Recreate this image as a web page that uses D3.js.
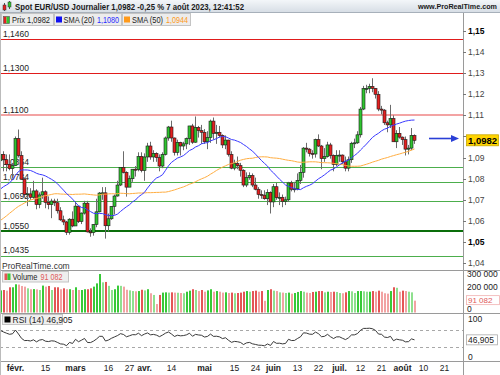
<!DOCTYPE html>
<html><head><meta charset="utf-8">
<script src="https://cdn.jsdelivr.net/npm/d3@7/dist/d3.min.js"></script>
<style>
html,body{margin:0;padding:0;background:#fff;overflow:hidden}
svg{display:block}
text{font-family:"Liberation Sans",Arial,sans-serif}
</style></head>
<body><svg id="chart" width="500" height="375"></svg>
<script>
// ---------- DATA ----------
const firstSession = '2023-01-25';
const lastAxisDate = '2023-08-25';
// closes before the visible window (for SMA/RSI warm-up)
const warmupCloses = [1.0210,1.0355,1.0325,1.0350,1.0395,1.0365,1.0325,1.0245,1.0305,1.0395,1.0410,1.0400,1.0340,1.0330,1.0405,
1.0520,1.0535,1.0495,1.0465,1.0505,1.0555,1.0530,1.0535,1.0630,1.0680,1.0625,1.0585,1.0605,1.0620,1.0605,1.0595,1.0615,1.0635,1.0640,1.0610,1.0665,1.0705,
1.0665,1.0545,1.0605,1.0520,1.0645,1.0730,1.0735,1.0760,1.0855,1.0830,1.0820,1.0790,1.0795,1.0830,1.0855,1.0870,1.0885];
const opens = [1.0885,1.0915,1.0890,1.0868,1.0848,1.0862,1.0990,1.0910,1.0798,1.0726,
1.0728,1.0712,1.0742,1.0678,1.0723,1.0738,1.0688,1.0677,1.0694,1.0686,
1.0648,1.0605,1.0595,1.0546,1.0608,1.0576,1.0670,1.0597,1.0637,1.0684,
1.0548,1.0545,1.0583,1.0643,1.0732,1.0733,1.0577,1.0610,1.0669,1.0718,
1.0770,1.0853,1.0830,1.0760,1.0800,1.0845,1.0843,1.0905,1.0839,1.0903,
1.0955,1.0903,1.0920,1.0900,1.0860,1.0915,1.0993,1.1045,1.0993,1.0925,
1.0972,1.0955,1.0965,1.0990,1.1050,1.0973,1.1043,1.1028,1.1020,1.0975,
1.0995,1.1073,1.1015,1.1020,1.1005,1.0960,1.0983,1.0915,1.0850,1.0872,
1.0862,1.0840,1.0770,1.0805,1.0815,1.0770,1.0750,1.0725,1.0722,1.0705,
1.0735,1.0690,1.0762,1.0710,1.0712,1.0693,1.0700,1.0780,1.0750,1.0752,
1.0792,1.0830,1.0945,1.0940,1.0920,1.0917,1.0985,1.0955,1.0895,1.0905,
1.0960,1.0910,1.0868,1.0910,1.0912,1.0880,1.0850,1.0890,1.0968,1.0970,
1.1008,1.1130,1.1227,1.1228,1.1237,1.1228,1.1200,1.1130,1.1125,1.1065,
1.1055,1.1085,1.0975,1.1015,1.0997,1.0985,1.0940,1.0945,1.1005];
const highs = [1.0930,1.0930,1.0915,1.0915,1.0875,1.1000,1.1033,1.0930,1.0805,1.0760,
1.0755,1.0790,1.0750,1.0735,1.0805,1.0745,1.0716,1.0705,1.0705,1.0705,
1.0665,1.0625,1.0600,1.0613,1.0645,1.0691,1.0670,1.0640,1.0695,1.0695,
1.0565,1.0585,1.0705,1.0737,1.0760,1.0760,1.0635,1.0670,1.0725,1.0790,
1.0855,1.0930,1.0835,1.0815,1.0845,1.0860,1.0925,1.0925,1.0920,1.0970,
1.0975,1.0935,1.0925,1.0915,1.0925,1.1000,1.1050,1.1075,1.0995,1.0985,
1.0975,1.0975,1.0995,1.1050,1.1060,1.1095,1.1050,1.1055,1.1035,1.1025,
1.1080,1.1090,1.1055,1.1050,1.1010,1.1005,1.0985,1.0930,1.0890,1.0905,
1.0875,1.0845,1.0830,1.0830,1.0825,1.0805,1.0760,1.0745,1.0745,1.0750,
1.0740,1.0775,1.0780,1.0735,1.0725,1.0715,1.0785,1.0790,1.0785,1.0825,
1.0865,1.0950,1.0970,1.0945,1.0935,1.0990,1.1010,1.0960,1.0945,1.0975,
1.0970,1.0915,1.0935,1.0935,1.0915,1.0905,1.0905,1.0975,1.0990,1.1025,
1.1140,1.1240,1.1245,1.1250,1.1276,1.1230,1.1215,1.1145,1.1130,1.1075,
1.1150,1.1100,1.1030,1.1045,1.1000,1.1000,1.0960,1.1040,1.1010];
const lows = [1.0835,1.0835,1.0835,1.0840,1.0800,1.0860,1.0900,1.0795,1.0710,1.0670,
1.0700,1.0705,1.0655,1.0660,1.0705,1.0660,1.0655,1.0613,1.0670,1.0635,
1.0600,1.0580,1.0533,1.0535,1.0570,1.0576,1.0590,1.0585,1.0630,1.0545,
1.0525,1.0530,1.0570,1.0640,1.0700,1.0516,1.0550,1.0605,1.0630,1.0715,
1.0765,1.0825,1.0715,1.0760,1.0785,1.0810,1.0835,1.0830,1.0790,1.0880,
1.0890,1.0880,1.0880,1.0835,1.0850,1.0910,1.0980,1.0975,1.0910,1.0910,
1.0910,1.0935,1.0940,1.0960,1.0965,1.0970,1.0995,1.0965,1.0965,1.0940,
1.0970,1.0985,1.0965,1.0995,1.0945,1.0940,1.0905,1.0845,1.0840,1.0845,
1.0810,1.0760,1.0760,1.0795,1.0760,1.0745,1.0705,1.0705,1.0700,1.0675,
1.0635,1.0665,1.0700,1.0675,1.0665,1.0675,1.0690,1.0740,1.0735,1.0745,
1.0775,1.0805,1.0925,1.0905,1.0895,1.0900,1.0950,1.0845,1.0880,1.0900,
1.0895,1.0835,1.0860,1.0880,1.0870,1.0835,1.0835,1.0875,1.0945,1.0965,
1.0995,1.1125,1.1205,1.1205,1.1210,1.1180,1.1120,1.1105,1.1055,1.1020,
1.1040,1.0975,1.0945,1.0990,1.0960,1.0910,1.0915,1.0935,1.0965];
const closes = [1.0915,1.0890,1.0868,1.0848,1.0862,1.0990,1.0910,1.0798,1.0726,1.0728,
1.0712,1.0742,1.0678,1.0723,1.0738,1.0688,1.0677,1.0694,1.0686,1.0648,
1.0605,1.0595,1.0546,1.0608,1.0576,1.0670,1.0597,1.0637,1.0684,1.0548,
1.0545,1.0583,1.0643,1.0732,1.0733,1.0577,1.0610,1.0669,1.0718,1.0770,
1.0853,1.0830,1.0760,1.0800,1.0845,1.0843,1.0905,1.0839,1.0903,1.0955,
1.0903,1.0920,1.0900,1.0860,1.0915,1.0993,1.1045,1.0993,1.0925,1.0972,
1.0955,1.0965,1.0990,1.1050,1.0973,1.1043,1.1028,1.1020,1.0975,1.0995,
1.1073,1.1015,1.1020,1.1005,1.0960,1.0983,1.0915,1.0850,1.0872,1.0862,
1.0840,1.0770,1.0805,1.0815,1.0770,1.0750,1.0725,1.0722,1.0705,1.0735,
1.0690,1.0762,1.0710,1.0712,1.0693,1.0700,1.0780,1.0750,1.0752,1.0792,
1.0830,1.0945,1.0940,1.0920,1.0917,1.0985,1.0955,1.0895,1.0905,1.0960,
1.0910,1.0868,1.0910,1.0912,1.0880,1.0850,1.0890,1.0968,1.0970,1.1008,
1.1130,1.1227,1.1228,1.1237,1.1228,1.1200,1.1130,1.1125,1.1065,1.1055,
1.1085,1.0975,1.1015,1.0997,1.0985,1.0940,1.0945,1.1005,1.0982];
const volumes = [170000,173000,168000,194000,194000,217000,215000,204000,199000,186000,
179000,180000,178000,173000,207000,199000,204000,173000,194000,194000,
179000,186000,179000,179000,173000,194000,173000,173000,179000,179000,
186000,199000,224000,296000,232000,235000,205000,173000,179000,207000,
205000,199000,175000,170000,165000,163000,165000,175000,170000,179000,
148000,135000,65000,135000,153000,155000,153000,155000,153000,152000,
150000,148000,160000,168000,179000,173000,165000,173000,160000,170000,
179000,160000,165000,160000,153000,155000,150000,153000,148000,150000,
153000,160000,165000,160000,165000,168000,160000,165000,90000,173000,
179000,168000,165000,155000,153000,150000,153000,145000,150000,158000,
165000,160000,153000,150000,158000,160000,165000,165000,155000,160000,
158000,160000,158000,150000,148000,155000,165000,163000,150000,165000,
165000,163000,160000,160000,165000,160000,168000,160000,148000,145000,
165000,194000,190000,160000,168000,165000,160000,155000,91082];
const levelValues = [1.1460,1.1300,1.1100,1.0854,1.0784,1.0692,1.0550,1.0435];
const levelLabels = ['1,1460','1,1300','1,1100','1,0854','1,0784','1,0692','1,0550','1,0435'];
const priceTicks = [1.04,1.05,1.06,1.07,1.08,1.09,1.10,1.11,1.12,1.13,1.14,1.15];
const volumeTicks = [0,100000,200000,300000];
const rsiTicks = [0,100];
const rsiBands = [30,70];
const xTickDates = ['2023-02-01','2023-02-15','2023-03-01','2023-03-16','2023-03-27','2023-04-03','2023-04-14','2023-05-01','2023-05-15','2023-05-24','2023-06-01','2023-06-13','2023-06-22','2023-07-03','2023-07-12','2023-07-21','2023-08-01','2023-08-10','2023-08-21'];
const xTickLabels = ['févr.','15','mars','16','27','avr.','14','mai','15','24','juin','13','22','juil.','12','21','août','10','21'];
const xTickMonth = [true,false,true,false,false,true,false,true,false,false,true,false,false,true,false,false,true,false,false];
const titleText = 'Spot EUR/USD Journalier 1,0982 -0,25 % 7 août 2023, 12:41:52';
const siteText = 'www.ProRealTime.com';
const legendPrix = '1,0982', legendSma20 = '1,1080', legendSma50 = '1,0944';
const volumeLast = '91 082', rsiLast = '46,905';

// ---------- HELPERS ----------
const loc = d3.formatLocale({decimal:',', thousands:' ', grouping:[3], currency:['','']});
const fPrice2 = loc.format('.2f'), fPrice4 = loc.format('.4f'), fVol = loc.format(',d');
const parse = d3.timeParse('%Y-%m-%d'), fmt = d3.timeFormat('%Y-%m-%d');
const sessions = d3.timeDay.range(parse(firstSession), d3.timeDay.offset(parse(lastAxisDate),1))
  .filter(d => d.getDay() % 6 !== 0).map(fmt);

const allCloses = warmupCloses.concat(closes);
const W0 = warmupCloses.length;
function sma(arr, n){ return arr.map((v,k)=> k<n-1? null : d3.mean(arr.slice(k-n+1,k+1))); }
function rsi(arr, n){
  const out = arr.map(()=>null); let g=0,l=0;
  for(let k=1;k<=n;k++){ const d=arr[k]-arr[k-1]; if(d>0) g+=d; else l-=d; }
  g/=n; l/=n; out[n]=100-100/(1+g/l);
  for(let k=n+1;k<arr.length;k++){ const d=arr[k]-arr[k-1];
    g=(g*(n-1)+Math.max(d,0))/n; l=(l*(n-1)+Math.max(-d,0))/n; out[k]=100-100/(1+g/l); }
  return out;
}
const sma20 = sma(allCloses,20).slice(W0), sma50 = sma(allCloses,50).slice(W0), rsi14 = rsi(allCloses,14).slice(W0);

// ---------- LAYOUT ----------
const svg = d3.select('#chart');
const AX = 463;
const P = {top:26, bottom:270};
const V = {top:270, bottom:313};
const R = {top:313, bottom:361};

const x = d3.scaleLinear().domain([0,154]).range([0,462]);
const y = d3.scaleLinear().domain([1.04,1.15]).range([263.1,31]);
const yv = d3.scaleLinear().domain([0,300000]).range([312.5,273.5]);
const yr = d3.scaleLinear().domain([0,100]).range([359.5,317.8]);
const cx = i => Math.round(x(i));

const defs = svg.append('defs');
const tg = defs.append('linearGradient').attr('id','topg').attr('x1',0).attr('y1',0).attr('x2',0).attr('y2',1);
tg.append('stop').attr('offset','0%').attr('stop-color','#f3f6f9');
tg.append('stop').attr('offset','100%').attr('stop-color','#d5dce4');
defs.append('clipPath').attr('id','clipP').append('rect').attr('x',0).attr('y',P.top).attr('width',AX).attr('height',P.bottom-P.top);
defs.append('clipPath').attr('id','clipV').append('rect').attr('x',0).attr('y',V.top).attr('width',AX).attr('height',V.bottom-V.top);
defs.append('clipPath').attr('id','clipR').append('rect').attr('x',0).attr('y',R.top).attr('width',AX).attr('height',R.bottom-R.top);

svg.append('rect').attr('width',500).attr('height',375).attr('fill','#fff');

// ---------- PRICE PANEL ----------
const gP = svg.append('g').attr('clip-path','url(#clipP)');
const lastClose = closes[closes.length-1];
function levelStyle(v){
  if (v === 1.1100) return {c:'#f3a3a3', w:2.2};
  if (v === 1.0550) return {c:'#0a6e0a', w:2};
  return v > lastClose ? {c:'#e01b1b', w:1} : {c:'#4cae4c', w:1};
}
levelValues.forEach((v,k)=>{
  const s = levelStyle(v), yy = Math.round(y(v)) + (s.w===1?0.5:0);
  gP.append('line').attr('x1',0).attr('x2',AX).attr('y1',yy).attr('y2',yy).attr('stroke',s.c).attr('stroke-width',s.w);
  gP.append('text').attr('x',3).attr('y',y(v)-2.5).attr('font-size',8.5).attr('fill','#222').text(levelLabels[k]);
});

const candles = closes.map((c,i)=>({i,o:opens[i],h:highs[i],l:lows[i],c}));
gP.selectAll('line.wick').data(candles).join('line').attr('class','wick')
  .attr('x1',d=>cx(d.i)+0.5).attr('x2',d=>cx(d.i)+0.5)
  .attr('y1',d=>y(d.h)).attr('y2',d=>y(d.l)).attr('stroke','#6b6b6b').attr('stroke-width',1);
gP.selectAll('rect.body').data(candles).join('rect').attr('class','body')
  .attr('x',d=>cx(d.i)-1).attr('width',3)
  .attr('y',d=>y(Math.max(d.o,d.c)))
  .attr('height',d=>Math.max(1,Math.abs(y(d.o)-y(d.c))))
  .attr('fill',d=>d.c>=d.o?'#2fc42f':'#e32020')
  .attr('stroke','#1a1a1a').attr('stroke-width',0.6);

const lineGen = d3.line().defined(d=>d.v!=null).x(d=>cx(d.i)+0.5).y(d=>y(d.v));
gP.append('path').datum(sma50.map((v,i)=>({i,v}))).attr('d',lineGen).attr('fill','none').attr('stroke','#ffae42').attr('stroke-width',1);
gP.append('path').datum(sma20.map((v,i)=>({i,v}))).attr('d',lineGen).attr('fill','none').attr('stroke','#3a3aff').attr('stroke-width',1);

// arrow to last price
const ay = Math.round(y(lastClose)) - 1.5;
svg.append('line').attr('x1',429).attr('x2',453).attr('y1',ay).attr('y2',ay).attr('stroke','#2a3fd6').attr('stroke-width',1.6);
svg.append('path').attr('d',`M451,${ay-3.5}L459,${ay}L451,${ay+3.5}Z`).attr('fill','#2a3fd6');

svg.append('text').attr('x',2).attr('y',269).attr('font-size',8.5).attr('fill','#333').text('ProRealTime.com');

// ---------- VOLUME PANEL ----------
const gV = svg.append('g').attr('clip-path','url(#clipV)');
gV.selectAll('rect').data(volumes.map((v,i)=>({i,v}))).join('rect')
  .attr('x',d=>cx(d.i)).attr('width',2)
  .attr('y',d=>yv(d.v)).attr('height',d=>yv(0)-yv(d.v))
  .attr('fill',d=>{ const up = closes[d.i]>=opens[d.i]; const light = d.i>0 && d.v<volumes[d.i-1];
    return up ? (light?'#8fe08f':'#37c937') : (light?'#f2a3a3':'#e45555'); });

// ---------- RSI PANEL ----------
const gR = svg.append('g').attr('clip-path','url(#clipR)');
rsiBands.forEach(b=>{
  gR.append('line').attr('x1',0).attr('x2',AX).attr('y1',Math.round(yr(b))+0.5).attr('y2',Math.round(yr(b))+0.5)
    .attr('stroke','#a8a8a8').attr('stroke-dasharray','3,3');
});
const rGen = d3.line().defined(d=>d.v!=null).x(d=>cx(d.i)+0.5).y(d=>yr(d.v));
gR.append('path').datum(rsi14.map((v,i)=>({i,v}))).attr('d',rGen).attr('fill','none').attr('stroke','#222').attr('stroke-width',0.9);

// ---------- FRAME ----------
const frame = '#9a9a9a';
[V.top, R.top, R.bottom].forEach(yy=>{
  svg.append('line').attr('x1',0).attr('x2',500).attr('y1',yy+0.5).attr('y2',yy+0.5).attr('stroke',frame);
});
svg.append('line').attr('x1',AX+0.5).attr('x2',AX+0.5).attr('y1',13).attr('y2',375).attr('stroke',frame);
svg.append('line').attr('x1',0.5).attr('x2',0.5).attr('y1',13).attr('y2',375).attr('stroke','#bbb');

// ---------- RIGHT AXES ----------
const gA = svg.append('g');
const py = y(lastClose);
priceTicks.forEach(t=>{
  const yy = Math.round(y(t))+0.5;
  gA.append('line').attr('x1',AX).attr('x2',AX+3).attr('y1',yy).attr('y2',yy).attr('stroke','#777');
  if (Math.abs(y(t)-py) < 9) return; // hidden behind the last-price box
  const major = Math.round(t*100)%10===5;
  gA.append('text').attr('x',AX+5).attr('y',y(t)+3).attr('font-size',8.5)
    .attr('font-weight', major?'bold':'normal')
    .attr('fill',major?'#000':'#444').text(fPrice2(t));
});
gA.append('rect').attr('x',466.5).attr('y',py-5.5).attr('width',32).attr('height',11).attr('fill','#ffd400').attr('stroke','#c9a800').attr('stroke-width',0.8);
gA.append('text').attr('x',468).attr('y',py+3.5).attr('font-size',9.5).attr('font-weight','bold').attr('fill','#000').text(fPrice4(lastClose));

const vy = yv(volumes[volumes.length-1]);
volumeTicks.forEach(t=>{
  if (Math.abs(yv(t)-vy) < 6) return; // hidden behind the last-volume box
  const yy = Math.min(yv(t)+3, V.bottom-1.5);
  gA.append('text').attr('x',AX+4).attr('y',yy).attr('font-size',8.5).attr('fill','#222').text(fVol(t));
});
gA.append('rect').attr('x',466.5).attr('y',vy-5).attr('width',33).attr('height',9).attr('fill','#fff').attr('stroke','#f0b0b0').attr('stroke-width',0.8);
gA.append('text').attr('x',468).attr('y',vy+2.3).attr('font-size',8).attr('fill','#e05a5a').text(volumeLast);

rsiTicks.forEach(t=>{
  const yy = Math.max(Math.min(yr(t)+3, R.bottom-1), R.top+9);
  gA.append('text').attr('x',AX+5).attr('y',yy).attr('font-size',8.5).attr('fill','#222').text(t);
});
const ry = yr(rsi14[rsi14.length-1]);
gA.append('rect').attr('x',466.5).attr('y',ry-5).attr('width',31).attr('height',10).attr('fill','#fff').attr('stroke','#aaa').attr('stroke-width',0.8);
gA.append('text').attr('x',468).attr('y',ry+3).attr('font-size',8.5).attr('fill','#222').text(rsiLast);

// ---------- X AXIS ----------
xTickDates.forEach((d,k)=>{
  const i = sessions.indexOf(d);
  svg.append('text').attr('x',cx(i)+0.5).attr('y',371).attr('text-anchor','middle').attr('font-size',8.5)
    .attr('font-weight',xTickMonth[k]?'bold':'normal').attr('fill','#222').text(xTickLabels[k]);
});

// ---------- HEADER ----------
svg.append('rect').attr('x',0).attr('y',0).attr('width',500).attr('height',13).attr('fill','url(#topg)');
svg.append('line').attr('x1',0).attr('x2',500).attr('y1',12.5).attr('y2',12.5).attr('stroke','#a7b0ba');
svg.append('line').attr('x1',4.5).attr('x2',4.5).attr('y1',3).attr('y2',11).attr('stroke','#555');
svg.append('rect').attr('x',3).attr('y',5).attr('width',3).attr('height',5).attr('fill','#e32020').attr('stroke','#333').attr('stroke-width',0.5);
svg.append('line').attr('x1',9.5).attr('x2',9.5).attr('y1',1).attr('y2',9).attr('stroke','#555');
svg.append('rect').attr('x',8).attr('y',2).attr('width',3).attr('height',5).attr('fill','#2fc42f').attr('stroke','#333').attr('stroke-width',0.5);
svg.append('text').attr('x',15).attr('y',9.5).attr('font-size',8.5).attr('font-weight','bold').attr('fill','#1a1a1a')
  .attr('textLength',229).attr('lengthAdjust','spacingAndGlyphs').text(titleText);
svg.append('text').attr('x',497).attr('y',9.3).attr('text-anchor','end').attr('font-size',7.2).attr('font-weight','bold').attr('fill','#1a1a1a')
  .text(siteText);

// legend row
function legBox(x0,x1){ svg.append('rect').attr('x',x0+0.5).attr('y',13.5).attr('width',x1-x0).attr('height',12).attr('fill','#ececec').attr('stroke','#c4c4c4'); }
function legText(x0,yb,w,str,color){ svg.append('text').attr('x',x0).attr('y',yb).attr('font-size',8.5).attr('fill',color)
  .attr('textLength',w).attr('lengthAdjust','spacingAndGlyphs').text(str); }
legBox(1,53); legBox(54,121); legBox(122,190);
svg.append('rect').attr('x',3.5).attr('y',16.5).attr('width',3).attr('height',7).attr('fill','#e32020');
svg.append('rect').attr('x',6.5).attr('y',16.5).attr('width',3).attr('height',7).attr('fill','#2fc42f');
svg.append('rect').attr('x',3.5).attr('y',16.5).attr('width',6).attr('height',7).attr('fill','none').attr('stroke','#555').attr('stroke-width',0.6);
legText(12,22.5,38,'Prix '+legendPrix,'#222');
svg.append('rect').attr('x',56).attr('y',16.5).attr('width',6).attr('height',6).attr('fill','#1010f0');
legText(63.5,22.5,31,'SMA (20)','#222');
legText(97,22.5,22,legendSma20,'#2a2aff');
svg.append('rect').attr('x',124).attr('y',16.5).attr('width',6).attr('height',6).attr('fill','#ff9a1a');
legText(132,22.5,31,'SMA (50)','#222');
legText(166,22.5,22,legendSma50,'#ff9a1a');

// volume legend
svg.append('rect').attr('x',2.5).attr('y',271.5).attr('width',66).attr('height',10.5).attr('fill','#eeeeee').attr('stroke','#c4c4c4');
svg.append('rect').attr('x',4.5).attr('y',273.5).attr('width',3).attr('height',6.5).attr('fill','#e45555');
svg.append('rect').attr('x',7.5).attr('y',273.5).attr('width',3).attr('height',6.5).attr('fill','#37c937');
legText(12.5,280,25,'Volume','#222');
legText(40.5,280,22,volumeLast,'#e05a5a');

// rsi legend
svg.append('rect').attr('x',2.5).attr('y',314.5).attr('width',60).attr('height',10).attr('fill','#eeeeee').attr('stroke','#c4c4c4');
svg.append('rect').attr('x',4.5).attr('y',316.5).attr('width',6).attr('height',6).attr('fill','#000');
svg.append('text').attr('x',12.5).attr('y',322.8).attr('font-size',8.5).attr('fill','#222').text('RSI (14) '+rsiLast);
</script></body></html>
